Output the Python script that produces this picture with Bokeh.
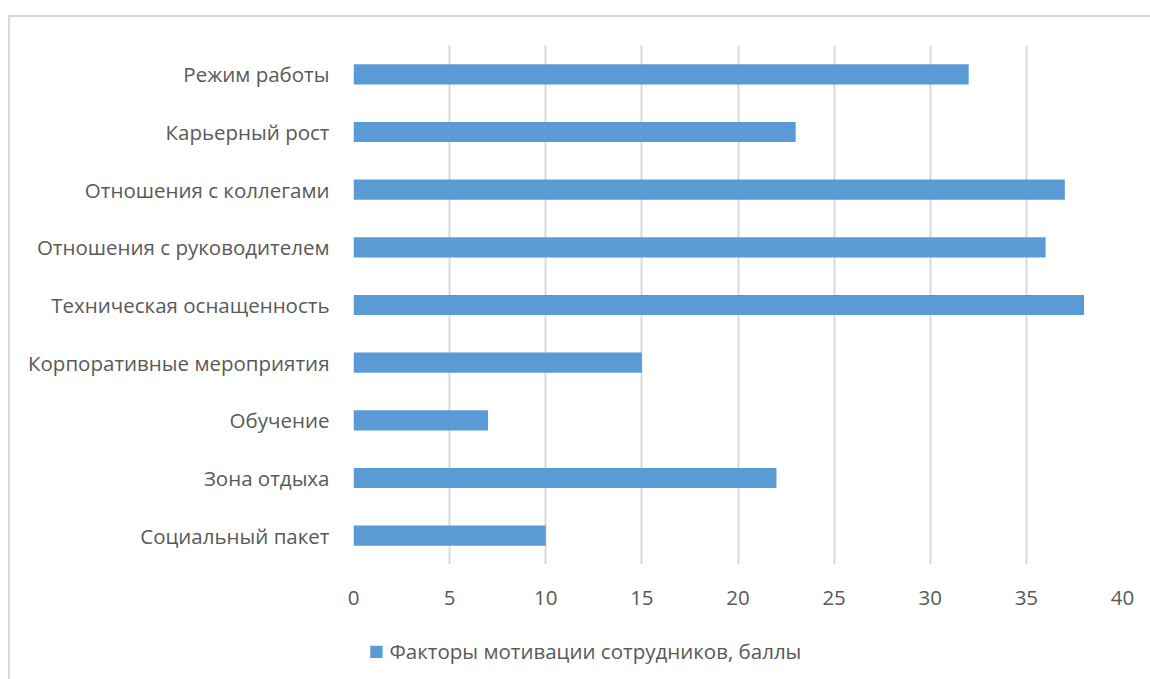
from bokeh.plotting import figure
from bokeh.layouts import column
from bokeh.models import FactorRange, Range1d, Label, ColumnDataSource, FixedTicker
from bokeh.embed import file_html
from bokeh.resources import INLINE

categories = ["Режим работы", "Карьерный рост", "Отношения с коллегами",
              "Отношения с руководителем", "Техническая оснащенность",
              "Корпоративные мероприятия", "Обучение", "Зона отдыха", "Социальный пакет"]
values = [32, 23, 37, 36, 38, 15, 7, 22, 10]
series_name = "Факторы мотивации сотрудников, баллы"
x_ticks = [0, 5, 10, 15, 20, 25, 30, 35, 40]

FONT = "Open Sans"
TXT = "#595959"
FS = "20.5px"
BAR = "#5b9bd5"
W = 1142

src = ColumnDataSource(dict(cat=categories, val=values))

p = figure(width=W, height=617, output_backend="svg", toolbar_location=None,
           y_range=FactorRange(factors=list(reversed(categories)), range_padding=0),
           x_range=Range1d(0, 40),
           min_border_left=343, min_border_right=30, min_border_top=28, min_border_bottom=70)
p.outline_line_color = None

r = p.hbar(y="cat", right="val", left=0, height=0.35, source=src,
           fill_color=BAR, line_color=None)

p.xaxis.ticker = FixedTicker(ticks=x_ticks)
for ax in (p.xaxis[0], p.yaxis[0]):
    ax.axis_line_color = None
    ax.major_tick_line_color = None
    ax.minor_tick_line_color = None
    ax.major_label_text_font = FONT
    ax.major_label_text_font_size = FS
    ax.major_label_text_color = TXT
p.xaxis.major_label_standoff = 20
p.yaxis.major_label_standoff = 18

p.ygrid.grid_line_color = None
p.xgrid.grid_line_color = "#d9d9d9"
p.xgrid.grid_line_width = 2

# legend strip under the chart (its frame is aligned with the chart's frame)
H2 = 47
leg = figure(width=W, height=H2, output_backend="svg", toolbar_location=None,
             x_range=Range1d(0, W), y_range=Range1d(0, H2),
             min_border=0, x_axis_location=None, y_axis_location=None)
leg.outline_line_color = None
leg.grid.visible = False
leg.add_layout(Label(x=30, y=H2 - 16, x_units="screen", text="■", text_align="right",
                     text_baseline="middle", text_color=BAR,
                     text_font="DejaVu Sans", text_font_size="16px"))
leg.add_layout(Label(x=36, y=H2 - 16, x_units="screen", text=series_name, text_align="left",
                     text_baseline="middle", text_color=TXT,
                     text_font=FONT, text_font_size=FS))

layout = column(p, leg, spacing=0)
layout.margin = (15, 0, 0, 8)
layout.styles = {"border-top": "2px solid #d9d9d9", "border-left": "2px solid #d9d9d9"}

open("out.html", "w").write(file_html(layout, INLINE))
